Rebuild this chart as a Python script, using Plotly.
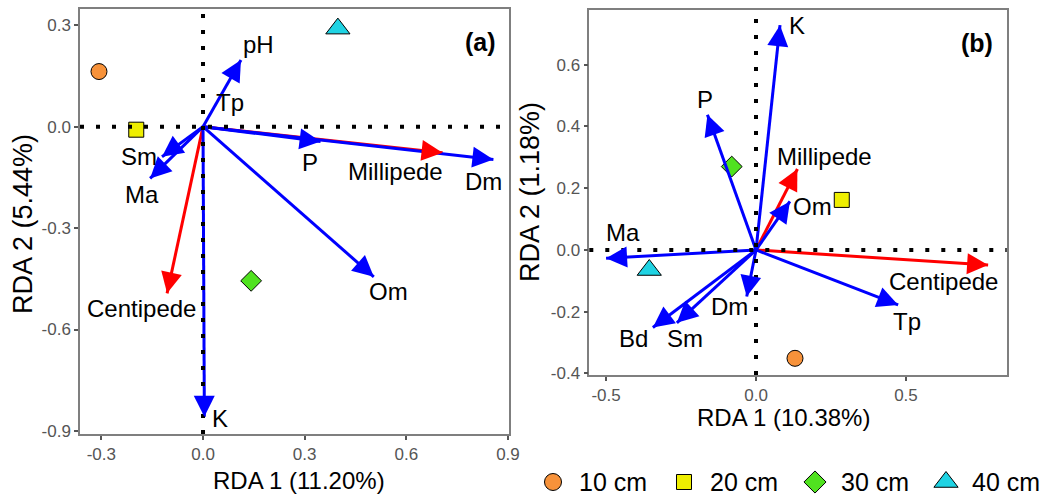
import math
import plotly.graph_objects as go

# ---------------- data ----------------
depths = ["10 cm", "20 cm", "30 cm", "40 cm"]
depth_colors = ["#F7923A", "#EEEE00", "#50E21F", "#1FD3E3"]
depth_symbols = ["circle", "square", "diamond", "triangle-up"]
depth_sizes = [16, 15, 16, 21]

# Panel (a) site scores
a_site_x = [-0.307, -0.197, 0.142, 0.398]
a_site_y = [0.163, -0.009, -0.456, 0.290]

# Panel (a) environmental arrows
a_env_names = ["pH", "Tp", "Sm", "Ma", "P", "Dm", "Om", "K"]
a_env_x = [0.112, 0.004, -0.121, -0.156, 0.347, 0.857, 0.504, 0.004]
a_env_y = [0.197, 0.006, -0.089, -0.153, -0.044, -0.097, -0.444, -0.858]
a_env_lab_x = [0.163, 0.081, -0.190, -0.180, 0.317, 0.829, 0.547, 0.051]
a_env_lab_y = [0.242, 0.070, -0.087, -0.202, -0.105, -0.163, -0.488, -0.863]

# Panel (a) species arrows
a_sp_names = ["Millipede", "Centipede"]
a_sp_x = [0.707, -0.106]
a_sp_y = [-0.077, -0.493]
a_sp_lab_x = [0.568, -0.181]
a_sp_lab_y = [-0.133, -0.537]

# Panel (b) site scores
b_site_x = [0.130, 0.286, -0.081, -0.356]
b_site_y = [-0.351, 0.162, 0.270, -0.065]

# Panel (b) environmental arrows
b_env_names = ["K", "P", "Om", "Ma", "Tp", "Dm", "Sm", "Bd"]
b_env_x = [0.080, -0.162, 0.113, -0.500, 0.474, -0.031, -0.264, -0.344]
b_env_y = [0.728, 0.438, 0.157, -0.027, -0.178, -0.151, -0.236, -0.251]
b_env_lab_x = [0.138, -0.170, 0.187, -0.443, 0.502, -0.090, -0.237, -0.408]
b_env_lab_y = [0.727, 0.487, 0.140, 0.055, -0.233, -0.184, -0.287, -0.287]

# Panel (b) species arrows
b_sp_names = ["Millipede", "Centipede"]
b_sp_x = [0.138, 0.774]
b_sp_y = [0.262, -0.049]
b_sp_lab_x = [0.230, 0.626]
b_sp_lab_y = [0.303, -0.103]

# axes
a_xticks = [-0.3, 0.0, 0.3, 0.6, 0.9]
a_yticks = [-0.9, -0.6, -0.3, 0.0, 0.3]
b_xticks = [-0.5, 0.0, 0.5]
b_yticks = [-0.4, -0.2, 0.0, 0.2, 0.4, 0.6]
a_xrange = [-0.363, 0.903]
a_yrange = [-0.909, 0.348]
b_xrange = [-0.556, 0.836]
b_yrange = [-0.405, 0.777]

a_xtitle = "RDA 1 (11.20%)"
a_ytitle = "RDA 2 (5.44%)"
b_xtitle = "RDA 1 (10.38%)"
b_ytitle = "RDA 2 (1.18%)"

# ---------------- figure ----------------
W, H = 1050, 504
FONT = "Liberation Sans, Arial, Helvetica, sans-serif"

# panel boxes in px: (left, right, top, bottom)
a_box = (80, 509, 9, 434)
b_box = (589.3, 1006.7, 10, 375)
a_scale = ((a_box[1] - a_box[0]) / (a_xrange[1] - a_xrange[0]),
           (a_box[3] - a_box[2]) / (a_yrange[1] - a_yrange[0]))
b_scale = ((b_box[1] - b_box[0]) / (b_xrange[1] - b_xrange[0]),
           (b_box[3] - b_box[2]) / (b_yrange[1] - b_yrange[0]))

fig = go.Figure()
annotations = []
shapes = []


def add_arrows(xs, ys, color, xa, ya, scale):
    # shaft: a line trace from the origin (so the dotted zero lines sit over it);
    # head: an annotation arrowhead ending exactly at the tip
    sx, sy = scale
    for x, y in zip(xs, ys):
        if (x * x + y * y) ** 0.5 < 0.02:
            continue
        fig.add_trace(go.Scatter(
            x=[0, x], y=[0, y], mode="lines", showlegend=False, hoverinfo="skip",
            line=dict(color=color, width=3, backoff=12),
            xaxis=xa, yaxis=ya, cliponaxis=False))
        px, py = x * sx, -y * sy
        n = math.hypot(px, py)
        L = 14
        annotations.append(dict(
            x=x, y=y, xref=xa, yref=ya, ax=-px / n * L, ay=-py / n * L,
            text="", showarrow=True, arrowhead=2, arrowsize=1.4, arrowwidth=3,
            arrowcolor=color, standoff=0, startstandoff=0))


def add_points(xs, ys, xa, ya):
    for i, d in enumerate(depths):
        fig.add_trace(go.Scatter(
            x=[xs[i]], y=[ys[i]], mode="markers", name=d, showlegend=False,
            marker=dict(symbol=depth_symbols[i], color=depth_colors[i], size=depth_sizes[i],
                        line=dict(color="black", width=1)),
            xaxis=xa, yaxis=ya))


def add_labels(names, xs, ys, xr, yr, size):
    for n, x, y in zip(names, xs, ys):
        annotations.append(dict(
            x=x, y=y, xref=xr, yref=yr, text=n, showarrow=False,
            xanchor="center", yanchor="middle",
            font=dict(family=FONT, size=size, color="black")))


# panel a
add_points(a_site_x, a_site_y, "x", "y")
add_arrows(a_sp_x, a_sp_y, "#FF0000", "x", "y", a_scale)
add_arrows(a_env_x, a_env_y, "#0000FF", "x", "y", a_scale)
add_labels(a_env_names, a_env_lab_x, a_env_lab_y, "x", "y", 24)
add_labels(a_sp_names, a_sp_lab_x, a_sp_lab_y, "x", "y", 24)
# panel b
add_points(b_site_x, b_site_y, "x2", "y2")
add_arrows(b_sp_x, b_sp_y, "#FF0000", "x2", "y2", b_scale)
add_arrows(b_env_x, b_env_y, "#0000FF", "x2", "y2", b_scale)
add_labels(b_env_names, b_env_lab_x, b_env_lab_y, "x2", "y2", 24)
add_labels(b_sp_names, b_sp_lab_x, b_sp_lab_y, "x2", "y2", 24)

# panel tags
annotations.append(dict(x=0.82, y=0.25, xref="x", yref="y", text="<b>(a)</b>", showarrow=False,
                        font=dict(family=FONT, size=25, color="black")))
annotations.append(dict(x=0.736, y=0.67, xref="x2", yref="y2", text="<b>(b)</b>", showarrow=False,
                        font=dict(family=FONT, size=25, color="black")))

# axis titles
title_font = dict(family=FONT, size=24, color="black")
ytitle_font = dict(family=FONT, size=27, color="black")
annotations.append(dict(x=299 / W, y=1 - 480 / H, xref="paper", yref="paper", text=a_xtitle,
                        showarrow=False, xanchor="center", yanchor="middle", font=title_font))
annotations.append(dict(x=783 / W, y=1 - 417 / H, xref="paper", yref="paper", text=b_xtitle,
                        showarrow=False, xanchor="center", yanchor="middle", font=title_font))
annotations.append(dict(x=23 / W, y=1 - 224 / H, xref="paper", yref="paper", text=a_ytitle,
                        showarrow=False, xanchor="center", yanchor="middle", textangle=-90, font=ytitle_font))
annotations.append(dict(x=530 / W, y=1 - 192 / H, xref="paper", yref="paper", text=b_ytitle,
                        showarrow=False, xanchor="center", yanchor="middle", textangle=-90, font=ytitle_font))

# ---- legend (drawn manually in a strip along the bottom, pixel units on a hidden axis) ----
LEG_LEFT, LEG_H = 520, 44
legend_x0 = 553      # centre of first key, px
legend_step = 131    # px between keys
legend_y = 482       # px from top
legend_text_gap = 24
legend_sizes = [17, 15, 17, 21]
for i, d in enumerate(depths):
    kx = legend_x0 + i * legend_step
    fig.add_trace(go.Scatter(
        x=[kx], y=[H - legend_y], mode="markers", name=d, showlegend=False,
        marker=dict(symbol=depth_symbols[i], color=depth_colors[i],
                    size=legend_sizes[i], line=dict(color="black", width=1)),
        xaxis="x3", yaxis="y3", hoverinfo="skip", cliponaxis=False))
    annotations.append(dict(x=kx + legend_text_gap, y=H - legend_y, xref="x3", yref="y3", text=d,
                            showarrow=False, xanchor="left", yanchor="middle",
                            font=dict(family=FONT, size=25, color="black")))

# dotted zero lines (drawn above the arrow shafts)
dot = dict(color="black", width=4, dash="4px,12px")
for xr, yr in [("x", "y"), ("x2", "y2")]:
    shapes.append(dict(type="line", xref=xr, yref=yr + " domain", x0=0, x1=0, y0=0, y1=1,
                       line=dot, layer="above"))
    shapes.append(dict(type="line", xref=xr + " domain", yref=yr, x0=0, x1=1, y0=0, y1=0,
                       line=dot, layer="above"))

axis_common = dict(showgrid=False, zeroline=False, showline=True, mirror=True,
                   linecolor="#7F7F7F", linewidth=1.5, ticks="outside", ticklen=4,
                   tickwidth=1.5, tickcolor="#555555",
                   tickfont=dict(family=FONT, size=17, color="#555555"))
hidden = dict(visible=False, showgrid=False, zeroline=False, fixedrange=True)


def fmt(v):
    return "%.1f" % v


fig.update_layout(
    width=W, height=H, autosize=False, showlegend=False,
    margin=dict(l=0, r=0, t=0, b=0, autoexpand=False),
    paper_bgcolor="white", plot_bgcolor="rgba(0,0,0,0)",
    xaxis=dict(domain=[a_box[0] / W, a_box[1] / W], range=a_xrange, tickvals=a_xticks,
               ticktext=[fmt(v) for v in a_xticks], anchor="y", **axis_common),
    yaxis=dict(domain=[1 - a_box[3] / H, 1 - a_box[2] / H], range=a_yrange, tickvals=a_yticks,
               ticktext=[fmt(v) for v in a_yticks], anchor="x", **axis_common),
    xaxis2=dict(domain=[b_box[0] / W, b_box[1] / W], range=b_xrange, tickvals=b_xticks,
                ticktext=[fmt(v) for v in b_xticks], anchor="y2", **axis_common),
    yaxis2=dict(domain=[1 - b_box[3] / H, 1 - b_box[2] / H], range=b_yrange, tickvals=b_yticks,
                ticktext=[fmt(v) for v in b_yticks], anchor="x2", **axis_common),
    xaxis3=dict(domain=[LEG_LEFT / W, 1], range=[LEG_LEFT, W], anchor="y3", **hidden),
    yaxis3=dict(domain=[0, LEG_H / H], range=[0, LEG_H], anchor="x3", **hidden),
    annotations=annotations, shapes=shapes,
)

fig.write_html("out.html", config={"displayModeBar": False, "responsive": False},
               post_script="document.body.style.margin='0';document.body.style.padding='0';"
                           "document.body.style.overflow='hidden';")
